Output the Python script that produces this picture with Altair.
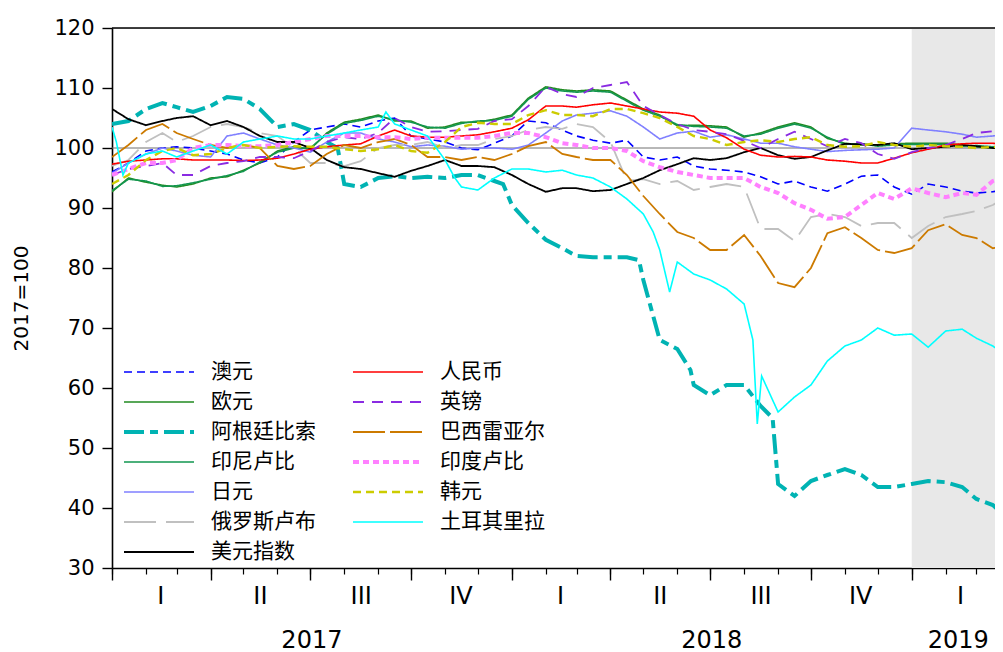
import altair as alt
import pandas as pd

# ---------------- data ----------------
dates = ["2017-01-01","2017-01-16","2017-02-01","2017-02-16","2017-03-01","2017-03-16",
         "2017-04-01","2017-04-16","2017-05-01","2017-05-16","2017-06-01","2017-06-16",
         "2017-07-01","2017-07-16","2017-08-01","2017-08-16","2017-09-01","2017-09-16",
         "2017-10-01","2017-10-16","2017-11-01","2017-11-16","2017-12-01","2017-12-16",
         "2018-01-01","2018-01-16","2018-02-01","2018-02-16","2018-03-01","2018-03-16",
         "2018-04-01","2018-04-16","2018-05-01","2018-05-16","2018-06-01","2018-06-16",
         "2018-07-01","2018-07-16","2018-08-01","2018-08-16","2018-09-01","2018-09-16",
         "2018-10-01","2018-10-16","2018-11-01","2018-11-16","2018-12-01","2018-12-16",
         "2019-01-01","2019-01-16","2019-02-01","2019-02-16","2019-03-01","2019-03-16","2019-03-25"]

aud = [96.0,97.5,99.5,100.0,100.2,100.0, 99.5,99.0,98.0,97.5,98.5,101.0,
       103.0,103.5,104.0,103.5,104.5,105.0, 102.0,101.5,101.0,100.0,99.7,100.8,
       102.0,104.5,104.2,103.0,102.0,101.3, 100.8,101.3,98.5,98.0,98.5,97.0,
       96.5,96.3,96.0,95.2,94.0,94.5, 93.5,92.8,94.0,95.3,95.5,93.5,
       92.3,94.0,93.5,92.8,92.5,92.7,93.0]
eur = [92.7,95.0,94.3,93.8,93.5,94.0, 95.0,95.2,96.3,97.5,99.5,100.2,
       99.8,102.5,104.3,104.8,105.5,104.5, 104.5,103.3,103.5,104.3,104.3,104.8,
       105.5,108.3,110.2,109.7,109.5,109.7, 109.5,108.0,106.5,105.5,103.7,103.8,
       103.7,103.5,101.8,102.5,103.5,104.2, 103.5,101.6,100.8,100.5,100.5,100.7,
       100.8,100.8,100.8,100.5,100.2,100.0,100.0]
idr = [92.9,94.8,94.5,93.6,93.7,94.2, 94.8,95.4,96.1,97.7,99.3,100.0,
       100.0,102.3,104.1,104.6,105.3,104.7, 104.3,103.5,103.3,104.1,104.5,104.6,
       105.3,108.1,110.0,109.5,109.3,109.5, 109.3,107.8,106.3,105.3,103.9,103.6,
       103.5,103.3,102.0,102.3,103.3,104.0, 103.3,101.8,100.6,100.7,100.3,100.5,
       100.6,100.6,100.6,100.3,100.4,100.2,100.1]
jpy = [95.8,97.5,99.0,100.0,99.5,98.8, 98.5,102.0,102.5,101.5,100.5,100.0,
       99.3,101.0,102.5,102.5,101.5,101.0, 100.2,100.5,100.3,99.8,100.0,100.0,
       99.8,100.5,102.5,104.5,105.5,105.8, 106.2,105.3,103.5,101.5,102.5,102.8,
       101.8,102.2,101.5,100.8,100.8,100.2, 99.8,99.4,99.6,99.7,99.8,100.0,
       103.3,103.0,102.7,102.3,101.8,102.0,102.2]
rub = [97.0,98.0,101.0,102.5,101.0,102.0, 103.5,104.0,103.5,102.5,102.0,100.0,
       97.5,97.5,97.0,97.8,100.0,100.5, 100.5,101.0,100.0,100.5,100.5,101.5,
       102.0,103.0,103.5,103.2,104.0,103.5, 101.0,94.5,94.8,94.0,94.5,93.0,
       93.5,94.0,93.5,86.5,86.5,84.5, 88.5,89.0,88.5,87.0,87.5,87.5,
       85.0,87.0,88.5,89.0,89.5,90.5,91.5]
usd = [106.5,104.8,103.8,104.5,105.0,105.3, 103.8,104.5,103.5,102.0,101.0,101.0,
       100.0,98.0,96.8,96.5,95.8,95.2, 96.2,97.0,98.0,97.0,97.0,96.8,
       95.5,94.0,92.7,93.3,93.3,92.8, 93.0,94.0,95.0,96.3,97.3,98.3,
       98.0,98.3,99.3,100.0,98.8,98.2, 98.5,99.6,100.7,100.6,100.5,100.8,
       99.8,100.0,100.2,100.5,100.3,100.0,100.0]
cny = [97.3,97.8,98.0,98.2,98.2,98.0, 98.0,98.0,97.9,98.0,98.3,99.0,
       99.8,100.2,100.5,100.7,102.0,103.0, 102.0,101.8,101.8,102.0,102.2,102.7,
       103.3,104.7,107.0,107.0,106.8,107.2, 107.5,107.0,106.5,106.0,105.8,105.3,
       103.0,101.7,99.8,98.8,98.5,98.6, 98.5,98.0,97.8,97.5,97.5,98.3,
       99.2,99.8,100.5,100.7,100.8,100.8,100.6]
gbp = [95.5,96.5,97.0,97.5,95.5,95.5, 97.0,97.5,97.8,98.5,98.5,98.3,
       99.5,101.0,101.8,101.5,102.5,105.0, 103.5,102.7,102.8,103.0,103.2,104.5,
       104.8,107.0,110.2,109.0,108.5,110.0, 110.5,111.0,107.0,105.5,104.0,103.0,
       102.7,102.3,101.2,100.0,101.5,102.7, 101.5,100.3,101.5,100.8,99.0,98.2,
       99.3,100.0,100.5,101.5,102.5,102.8,102.5]
brl = [98.5,100.5,103.0,104.0,102.5,101.5, 100.5,100.0,100.5,100.0,97.0,96.5,
       97.0,99.0,100.5,100.0,101.0,101.5, 100.5,98.5,98.5,98.0,98.5,98.0,
       99.0,100.3,101.0,99.0,98.5,98.0, 98.0,95.5,92.0,89.0,86.0,85.0,
       83.0,83.0,85.5,82.0,77.5,76.8, 80.0,85.8,86.8,85.0,83.0,82.5,
       83.3,86.3,87.3,85.5,85.0,83.3,83.5]
inr = [95.5,96.5,97.5,97.5,98.0,100.0, 100.5,100.5,100.3,100.3,100.5,101.0,
       101.5,102.0,102.0,102.0,101.8,101.8, 101.5,101.7,101.7,101.7,101.7,102.0,
       102.5,102.5,101.8,100.8,100.5,100.0, 100.0,99.5,97.8,96.8,96.0,95.5,
       95.0,95.0,95.0,93.5,92.5,90.8, 89.7,88.2,88.5,90.5,92.5,91.5,
       93.3,92.5,91.8,92.5,92.2,94.5,95.0]
krw = [94.0,95.5,98.0,99.5,100.0,98.8, 99.0,100.0,100.5,100.0,100.2,100.3,
       100.2,100.2,99.8,99.5,99.8,100.5, 99.5,99.2,101.0,103.5,104.2,104.0,
       104.0,105.5,106.3,105.5,105.5,105.3, 106.5,106.5,105.8,105.0,103.5,102.0,
       101.5,100.5,101.0,101.3,101.0,101.5, 101.8,100.5,100.2,100.3,101.0,100.5,
       100.2,100.5,100.3,100.2,100.0,100.2,100.0]

ars_dates = ["2017-01-01","2017-01-16","2017-02-01","2017-02-16","2017-03-01","2017-03-16",
             "2017-04-01","2017-04-16","2017-05-01","2017-05-16","2017-06-01","2017-06-16",
             "2017-07-01","2017-07-16","2017-07-26","2017-08-01","2017-08-16","2017-09-01",
             "2017-09-16","2017-10-01","2017-10-16","2017-11-01","2017-11-16","2017-12-01",
             "2017-12-16","2017-12-24",
             "2018-01-01","2018-01-16","2018-02-01","2018-02-16","2018-03-01","2018-03-16",
             "2018-04-01","2018-04-16","2018-04-27","2018-05-01","2018-05-10","2018-05-16",
             "2018-06-01","2018-06-13","2018-06-16","2018-07-01","2018-07-16","2018-08-01",
             "2018-08-16","2018-08-27","2018-09-01","2018-09-16","2018-10-01","2018-10-16",
             "2018-11-01","2018-11-16","2018-12-01","2018-12-16",
             "2019-01-01","2019-01-16","2019-02-01","2019-02-16","2019-03-01","2019-03-16","2019-03-25"]
ars = [104.0,104.5,106.5,107.5,106.8,106.0, 107.0,108.5,108.2,106.5,103.5,104.0,
       103.0,101.0,100.0,94.0,93.5,95.0, 95.3,95.0,95.2,95.0,95.5,95.5, 94.5,94.0,
       90.5,87.5,84.7,83.3,82.0,81.8, 81.8,81.8,81.3,78.0,72.0,68.0,
       66.5,63.0,60.5,58.8,60.5,60.5, 57.0,55.0,44.0,42.0,44.5,45.5,
       46.5,45.5,43.5,43.5,
       44.0,44.5,44.3,43.5,41.5,40.5,39.0]

try_dates = ["2017-01-01","2017-01-05","2017-01-11","2017-01-16","2017-02-01","2017-02-16",
             "2017-03-01","2017-03-16","2017-04-01","2017-04-16","2017-05-01","2017-05-16",
             "2017-06-01","2017-06-16","2017-07-01","2017-07-16","2017-08-01","2017-08-16",
             "2017-09-01","2017-09-08","2017-09-16","2017-10-01","2017-10-16","2017-11-01",
             "2017-11-10","2017-11-16","2017-12-01","2017-12-16",
             "2018-01-01","2018-01-16","2018-02-01","2018-02-16","2018-03-01","2018-03-16",
             "2018-04-01","2018-04-16","2018-05-01","2018-05-10","2018-05-16","2018-05-25",
             "2018-06-01","2018-06-16","2018-07-01","2018-07-16","2018-08-01","2018-08-09",
             "2018-08-13","2018-08-17","2018-09-01","2018-09-16","2018-10-01","2018-10-16",
             "2018-11-01","2018-11-16","2018-12-01","2018-12-16",
             "2019-01-01","2019-01-16","2019-02-01","2019-02-16","2019-03-01","2019-03-16","2019-03-25"]
try_vals = [103.5,101.0,95.5,97.5,99.0,99.5, 98.5,99.5,100.5,99.0,101.0,101.5,
            102.0,101.5,101.5,102.0,102.5,103.0, 103.5,106.0,104.0,103.0,102.0,98.0,
            95.0,93.5,93.0,95.0,
            96.5,96.5,96.0,96.3,95.5,95.0, 93.5,91.5,89.0,86.0,83.0,76.0,
            81.0,79.0,78.0,76.5,74.0,68.0, 54.0,62.0,56.0,58.5,60.5,64.5,
            67.0,68.0,70.0,68.8,
            69.0,66.8,69.5,69.8,68.3,67.0,65.8]

# series order (drawing order and legend order, legend filled column by column) and styles
series_names = ["澳元", "欧元", "阿根廷比索", "印尼卢比", "日元", "俄罗斯卢布", "美元指数",
                "人民币", "英镑", "巴西雷亚尔", "印度卢比", "韩元", "土耳其里拉"]
colors = ["#0000ff", "#228b22", "#00b3b3", "#129650", "#8080ff", "#c0c0c0", "#000000",
          "#ff0000", "#8a2be2", "#cc7a00", "#ff80ff", "#cccc00", "#00ffff"]
dashes = [[8, 5], [1, 0], [20, 6, 8, 6], [1, 0], [1, 0], [32, 10], [1, 0],
          [1, 0], [11, 8], [32, 5], [6, 4], [8, 5], [1, 0]]
widths = [1.6, 1.6, 4, 1.6, 1.6, 1.8, 1.8, 1.6, 1.8, 1.8, 4, 2.4, 1.6]

shared_series = {"澳元": aud, "欧元": eur, "印尼卢比": idr, "日元": jpy, "俄罗斯卢布": rub,
                 "美元指数": usd, "人民币": cny, "英镑": gbp, "巴西雷亚尔": brl,
                 "印度卢比": inr, "韩元": krw}

rows = []
for name in series_names:
    if name == "阿根廷比索":
        ds, vs = ars_dates, ars
    elif name == "土耳其里拉":
        ds, vs = try_dates, try_vals
    else:
        ds, vs = dates, shared_series[name]
    for d, v in zip(ds, vs):
        rows.append({"date": d, "value": v, "series": name})
df = pd.DataFrame(rows)
df["date"] = pd.to_datetime(df["date"])

Y_MIN, Y_MAX, REF = 30, 120, 100
shade_df = pd.DataFrame({"start": pd.to_datetime(["2019-01-01"]),
                         "end": pd.to_datetime(["2019-03-18"])})

month_ticks = [alt.DateTime(year=y, month=m, date=1)
               for y in (2017, 2018, 2019) for m in range(1, 13)
               if not (y == 2019 and m > 3)]
quarter_ticks = [alt.DateTime(year=y, month=m, date=1)
                 for y in (2017, 2018, 2019) for m in (1, 4, 7, 10)
                 if not (y == 2019 and m > 1)]
quarter_names = ["I", "II", "III", "IV"]
quarter_mids = [alt.DateTime(year=y, month=m, date=d)
                for y in (2017, 2018) for (m, d) in ((2, 14), (5, 16), (8, 16), (11, 15))] + \
               [alt.DateTime(year=2019, month=2, date=14)]
year_mids = [alt.DateTime(year=2017, month=7, date=2),
             alt.DateTime(year=2018, month=7, date=2),
             alt.DateTime(year=2019, month=2, date=12)]

xscale = alt.Scale(domain=[alt.DateTime(year=2017, month=1, date=1),
                           alt.DateTime(year=2019, month=3, date=18)])
yscale = alt.Scale(domain=[Y_MIN, Y_MAX], nice=False)
NUM_FONT = "DejaVu Sans"

leg = alt.Legend(title=None, orient="none", legendX=10, legendY=333, columns=2,
                 columnPadding=35, rowPadding=8, symbolType="stroke", symbolSize=4900,
                 labelFont="Noto Sans CJK SC", labelFontSize=21, labelOffset=15,
                 labelColor="black", padding=0, clipHeight=22, labelLimit=300)

shade = alt.Chart(shade_df).mark_rect(color="#e8e8e8").encode(
    x=alt.X("start:T", scale=xscale, axis=None), x2="end:T")

ref = alt.Chart(pd.DataFrame({"v": [REF]})).mark_rule(color="#707070", strokeWidth=1).encode(
    y=alt.Y("v:Q", scale=yscale, axis=None))
top = alt.Chart(pd.DataFrame({"v": [Y_MAX]})).mark_rule(color="black", strokeWidth=1.5).encode(
    y=alt.Y("v:Q", scale=yscale, axis=None))

lines = alt.Chart(df).mark_line(clip=True).encode(
    x=alt.X("date:T", scale=xscale,
            axis=alt.Axis(orient="bottom", values=month_ticks, tickSize=6, tickWidth=1.2,
                          tickColor="black", labels=False, domainColor="black",
                          domainWidth=1.6, grid=False, title=None)),
    y=alt.Y("value:Q", scale=yscale,
            axis=alt.Axis(orient="left", values=list(range(Y_MIN, Y_MAX + 1, 10)), tickSize=10,
                          tickWidth=1.4, tickColor="black", domainColor="black",
                          domainWidth=1.6, labelFont=NUM_FONT, labelFontSize=21,
                          labelColor="black", labelPadding=8, grid=False, title="2017=100",
                          titleFont=NUM_FONT, titleFontSize=20, titleFontWeight="normal",
                          titleColor="black", titleX=-91, titleBaseline="middle")),
    color=alt.Color("series:N", scale=alt.Scale(domain=series_names, range=colors), legend=leg),
    strokeDash=alt.StrokeDash("series:N", scale=alt.Scale(type="ordinal", domain=series_names,
                                                          range=dashes), legend=leg),
    strokeWidth=alt.StrokeWidth("series:N", scale=alt.Scale(type="ordinal", domain=series_names,
                                                            range=widths), legend=leg),
)

qdf = pd.DataFrame({"d": pd.to_datetime(["2017-01-01"])})
qticks = alt.Chart(qdf).mark_point(opacity=0).encode(
    x=alt.X("d:T", scale=xscale,
            axis=alt.Axis(orient="bottom", values=quarter_ticks, tickSize=12, tickWidth=1.4,
                          tickColor="black", labels=False, domain=False, grid=False,
                          title=None)))
qlabel_expr = "[" + ",".join("'" + q + "'" for q in quarter_names) + "][floor(month(datum.value)/3)]"
qlabels = alt.Chart(qdf).mark_point(opacity=0).encode(
    x=alt.X("d:T", scale=xscale,
            axis=alt.Axis(orient="bottom", values=quarter_mids, ticks=False, tickSize=0,
                          domain=False, grid=False, title=None, labelExpr=qlabel_expr,
                          labelFont=NUM_FONT, labelFontSize=24, labelColor="black",
                          labelPadding=28, labelBaseline="middle", labelOverlap=False,
                          labelFlush=False)))
ylabels = alt.Chart(qdf).mark_point(opacity=0).encode(
    x=alt.X("d:T", scale=xscale,
            axis=alt.Axis(orient="bottom", values=year_mids, ticks=False, tickSize=0,
                          domain=False, grid=False, title=None,
                          labelExpr="timeFormat(datum.value, '%Y')",
                          labelFont=NUM_FONT, labelFontSize=24, labelColor="black",
                          labelPadding=72, labelBaseline="middle", labelOverlap=False,
                          labelFlush=False)))

chart = alt.layer(shade, ref, lines, top, qticks, qlabels, ylabels).resolve_axis(
    x="independent", y="independent"
).properties(
    width=883, height=540,
    padding={"left": 104, "top": 20, "right": 0, "bottom": 84},
    autosize=alt.AutoSizeParams(type="none"),
).configure_view(stroke=None).configure(background="white")

chart.save("out.html", embed_options={"renderer": "svg", "actions": False})
